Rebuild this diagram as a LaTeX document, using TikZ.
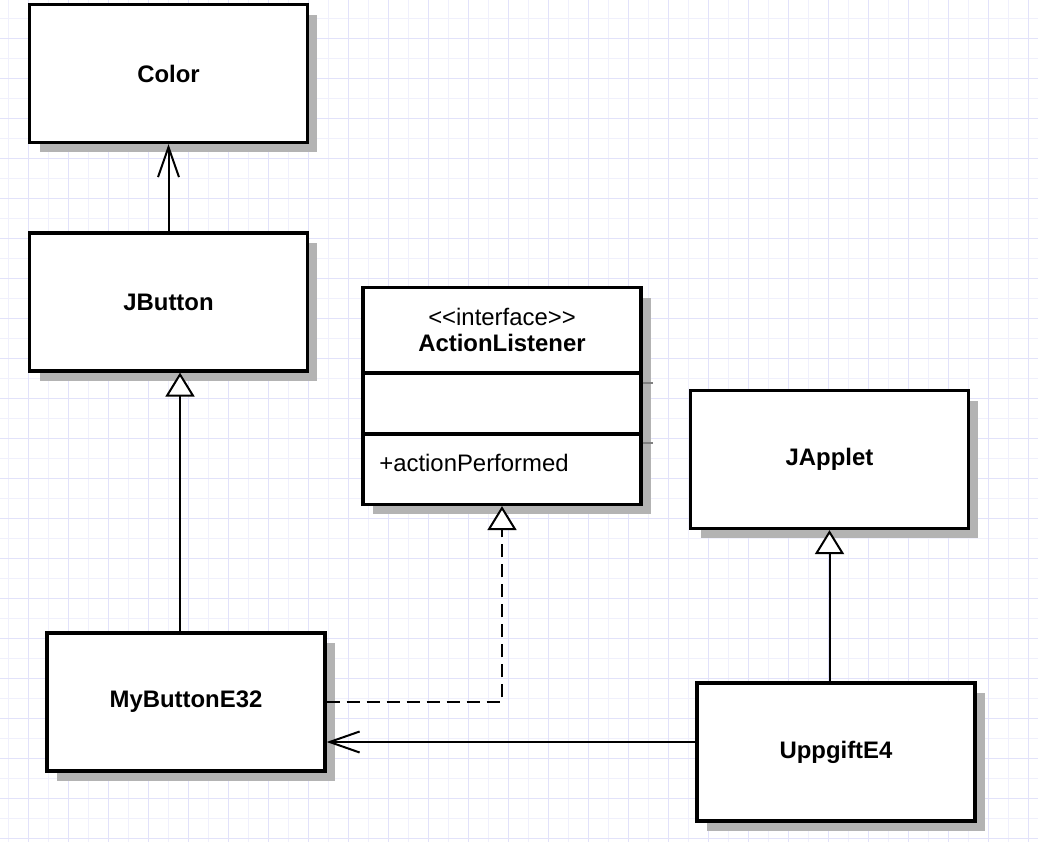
\documentclass[tikz,border=0pt]{standalone}
\usepackage{fontspec}
\setmainfont{Liberation Sans}
\usetikzlibrary{arrows.meta,shadows,calc}

\definecolor{gridLight}{HTML}{F0F0FC}
\definecolor{gridDark}{HTML}{E2E2FA}
\definecolor{shadowGray}{HTML}{B3B3B3}

\begin{document}
\begin{tikzpicture}[x=0.02cm,y=-0.02cm]

% --- Stijldefinities ---
\tikzset{
    classBox/.style={
        draw=black,
        line width=0.065cm,
        fill=white,
        minimum width=5.56cm,
        minimum height=2.76cm,
        font=\fontsize{13.6pt}{16pt}\selectfont\bfseries,
        drop shadow={shadow xshift=0.2cm, shadow yshift=-0.2cm,
                     fill=shadowGray, opacity=1}
    },
    interfaceBox/.style={
        classBox,
        minimum height=4.34cm
    },
    compartmentLine/.style={
        draw=black,
        line width=0.065cm
    },
    memberLabel/.style={
        font=\fontsize{13.6pt}{16pt}\selectfont
    },
    association/.style={
        draw=black,
        line width=0.04cm,
        -{Straight Barb[length=0.6cm,width=0.42cm]}
    },
    generalization/.style={
        draw=black,
        line width=0.04cm,
        -{Triangle[length=0.48cm,width=0.58cm,fill=white]}
    },
    realization/.style={
        generalization,
        dash pattern=on 0.26cm off 0.14cm
    }
}

% =========================================================
% Achtergrond met raster
% =========================================================

\useasboundingbox (0,0) rectangle (1038,842);
\fill[white] (0,0) rectangle (1038,842);
\foreach \gx in {8,48,...,1038}
    \draw[gridLight, line width=0.02cm] (\gx,0) -- (\gx,842);
\foreach \gy in {18,58,...,842}
    \draw[gridLight, line width=0.02cm] (0,\gy) -- (1038,\gy);
\foreach \gx in {28,68,...,1038}
    \draw[gridDark, line width=0.02cm] (\gx,0) -- (\gx,842);
\foreach \gy in {38,78,...,842}
    \draw[gridDark, line width=0.02cm] (0,\gy) -- (1038,\gy);

% =========================================================
% Klassen
% =========================================================

\node[classBox] (color)    at (168.5,73.5) {Color};
\node[classBox] (jbutton)  at (168.5,302)  {JButton};
\node[classBox] (japplet)  at (829.5,459.5) {JApplet};
\node[classBox] (mybutton) at (186,702)    {MyButtonE32};
\node[classBox] (uppgift)  at (836,752)    {UppgiftE4};

% Interface met drie vakken
\node[interfaceBox] (listener) at (502,396) {};
\draw[compartmentLine] (listener.west |- 0,373) -- (listener.east |- 0,373);
\draw[compartmentLine] (listener.west |- 0,434) -- (listener.east |- 0,434);
\draw[gray, line width=0.03cm] (listener.east |- 0,383) -- ++(10,0);
\draw[gray, line width=0.03cm] (listener.east |- 0,443) -- ++(10,0);

\node[memberLabel] (stereo) at (502,317) {{<}{<}interface{>}{>}};
\node[memberLabel, font=\fontsize{13.6pt}{16pt}\selectfont\bfseries] (lname) at (502,343) {ActionListener};
\node[memberLabel, anchor=west, inner sep=0pt] (method) at (379,463) {+actionPerformed};

% =========================================================
% Verbindingen
% =========================================================

\draw[association] (jbutton.north) -- (color.south);
\draw[generalization] ([xshift=-0.12cm]mybutton.north)
    -- ([xshift=-0.12cm]mybutton.north |- jbutton.south);
\draw[realization] (mybutton.east) -| (listener.south);
\draw[generalization] (uppgift.north -| japplet.south) -- (japplet.south);
\draw[association] ([yshift=-0.8cm]mybutton.east -| uppgift.west)
    -- ([yshift=-0.8cm]mybutton.east);

\end{tikzpicture}
\end{document}
